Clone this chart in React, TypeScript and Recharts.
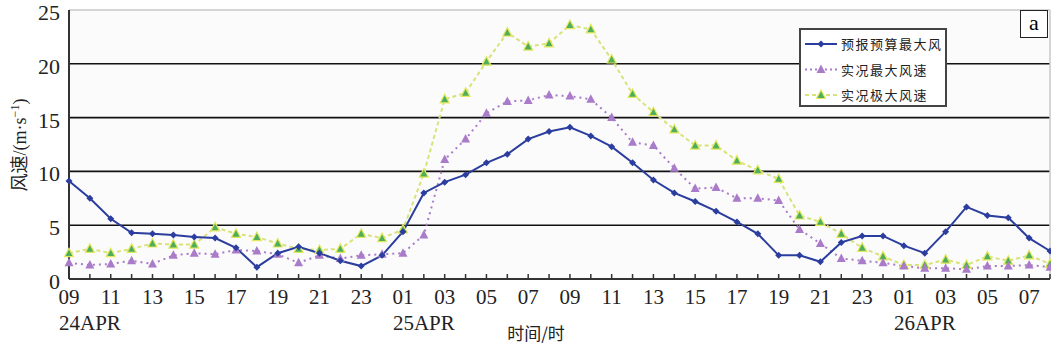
import { LineChart, Line, XAxis, YAxis, ReferenceLine } from "recharts";

// hours along the x axis, 09 on 24 Apr to 08 on 26 Apr
const hours = [
  "09", "10", "11", "12", "13", "14", "15", "16", "17", "18", "19", "20", "21", "22", "23", "00",
  "01", "02", "03", "04", "05", "06", "07", "08", "09", "10", "11", "12", "13", "14", "15", "16",
  "17", "18", "19", "20", "21", "22", "23", "00", "01", "02", "03", "04", "05", "06", "07", "08",
];

// date labels placed under the first hour of each day
const dateLabels: [number, string][] = [
  [0, "24APR"],
  [16, "25APR"],
  [40, "26APR"],
];

const forecast = [
  9.1, 7.5, 5.6, 4.3, 4.2, 4.1, 3.9, 3.8, 2.9, 1.1, 2.4, 3.0, 2.4, 1.7, 1.2, 2.2,
  4.4, 8.0, 9.0, 9.7, 10.8, 11.6, 13.0, 13.7, 14.1, 13.3, 12.3, 10.8, 9.2, 8.0, 7.2, 6.3,
  5.3, 4.2, 2.2, 2.2, 1.6, 3.4, 4.0, 4.0, 3.1, 2.4, 4.4, 6.7, 5.9, 5.7, 3.8, 2.6,
];

const obsMax = [
  1.5, 1.3, 1.4, 1.7, 1.4, 2.2, 2.4, 2.3, 2.7, 2.6, 2.3, 1.5, 2.2, 1.9, 2.2, 2.3,
  2.4, 4.1, 11.1, 13.0, 15.4, 16.5, 16.6, 17.1, 17.0, 16.7, 15.0, 12.7, 12.4, 10.3, 8.4, 8.5,
  7.5, 7.5, 7.3, 4.6, 3.3, 1.9, 1.7, 1.5, 1.2, 1.0, 1.0, 0.9, 1.2, 1.2, 1.3, 1.1,
];

const obsGust = [
  2.4, 2.8, 2.4, 2.8, 3.3, 3.2, 3.2, 4.8, 4.2, 3.9, 3.3, 2.8, 2.7, 2.8, 4.2, 3.8,
  4.6, 9.8, 16.7, 17.3, 20.2, 22.9, 21.6, 21.9, 23.6, 23.2, 20.4, 17.2, 15.5, 13.9, 12.4, 12.4,
  11.0, 10.1, 9.3, 5.9, 5.3, 4.2, 2.9, 2.1, 1.3, 1.3, 1.8, 1.3, 2.1, 1.7, 2.2, 1.4,
];

const yTicks = [0, 5, 10, 15, 20, 25];

const data = hours.map((h, i) => ({
  i,
  hour: h,
  forecast: forecast[i],
  obsMax: obsMax[i],
  obsGust: obsGust[i],
}));

const BLUE = "#2b3d9e";
const PURPLE = "#a97bc9";
const GREEN_LINE = "#d9e27a";
const GREEN_DOT = "#4fae5a";
const SERIF = "'Liberation Serif', 'Times New Roman', serif";
const CJK = "'Noto Sans CJK SC', sans-serif";

const Diamond = (props: any) => {
  const { cx, cy, index } = props;
  if (cx == null || cy == null) return <g key={index} />;
  const r = 3.5;
  return (
    <path
      key={index}
      d={`M${cx},${cy - r}L${cx + r},${cy}L${cx},${cy + r}L${cx - r},${cy}Z`}
      fill={BLUE}
    />
  );
};

const PurpleTri = (props: any) => {
  const { cx, cy, index } = props;
  if (cx == null || cy == null) return <g key={index} />;
  return (
    <path
      key={index}
      d={`M${cx},${cy - 5}L${cx + 4.5},${cy + 3.5}L${cx - 4.5},${cy + 3.5}Z`}
      fill={PURPLE}
    />
  );
};

const GreenTri = (props: any) => {
  const { cx, cy, index } = props;
  if (cx == null || cy == null) return <g key={index} />;
  return (
    <path
      key={index}
      d={`M${cx},${cy - 5}L${cx + 4.5},${cy + 3.5}L${cx - 4.5},${cy + 3.5}Z`}
      fill={GREEN_DOT}
      stroke="#e4e860"
      strokeWidth={1.2}
    />
  );
};

const HourTick = (props: any) => {
  const { x, y, payload } = props;
  const idx = payload.value as number;
  const date = dateLabels.find((d) => d[0] === idx);
  return (
    <g>
      <line x1={x} x2={x} y1={y} y2={y - 5} stroke="#333" strokeWidth={1.5} />
      {idx % 2 === 0 && (
        <text x={x} y={y + 25} textAnchor="middle" fontFamily={SERIF} fontSize={21} fill="#222">
          {hours[idx]}
        </text>
      )}
      {date && (
        <text x={x - 10} y={y + 51} textAnchor="start" fontFamily={SERIF} fontSize={21} fill="#222">
          {date[1]}
        </text>
      )}
    </g>
  );
};

const ValueTick = (props: any) => {
  const { x, y, payload } = props;
  return (
    <text x={x} y={y + 10} textAnchor="end" fontFamily={SERIF} fontSize={22} fill="#222">
      {payload.value}
    </text>
  );
};

const legendItems = [
  { label: "预报预算最大风", color: BLUE, dash: undefined, shape: "diamond" },
  { label: "实况最大风速", color: PURPLE, dash: "2 3", shape: "ptri" },
  { label: "实况极大风速", color: GREEN_LINE, dash: "4 3", shape: "gtri" },
];

const LegendBox = () => (
  <div
    style={{
      position: "absolute",
      left: 799,
      top: 28,
      width: 144,
      height: 75,
      border: "2px solid #444",
      background: "#fff",
    }}
  >
    <svg width={144} height={75} style={{ display: "block" }}>
      {legendItems.map((it, k) => {
        const cy = 14 + k * 25.5;
        return (
          <g key={it.label}>
            <line x1={4} x2={36} y1={cy} y2={cy} stroke={it.color} strokeWidth={2} strokeDasharray={it.dash} />
            {it.shape === "diamond" && <Diamond cx={20} cy={cy} index={k} />}
            {it.shape === "ptri" && <PurpleTri cx={20} cy={cy} index={k} />}
            {it.shape === "gtri" && <GreenTri cx={20} cy={cy} index={k} />}
            <text x={40} y={cy + 5} fontFamily={CJK} fontSize={13} letterSpacing={1.5} fill="#222">
              {it.label}
            </text>
          </g>
        );
      })}
    </svg>
  </div>
);

const YLabel = () => (
  <text
    transform="translate(26,145) rotate(-90)"
    textAnchor="middle"
    fontSize={18}
    fill="#222"
  >
    <tspan fontFamily={CJK}>风速</tspan>
    <tspan fontFamily={SERIF}>/(m·s</tspan>
    <tspan fontFamily={SERIF} fontSize={12} dy={-7}>−1</tspan>
    <tspan fontFamily={SERIF} dy={7}>)</tspan>
  </text>
);

export default function App() {
  return (
    <div style={{ position: "absolute", left: 0, top: 0, width: 1051, height: 351, background: "#fff" }}>
      <LineChart width={1051} height={351} data={data} margin={{ top: 10, right: 1, left: 0, bottom: 0 }}>
        <rect x={69} y={10} width={981} height={269} fill="#fbfbfb" />
        <XAxis
          dataKey="i"
          type="number"
          domain={[0, 47]}
          ticks={hours.map((_, i) => i)}
          interval={0}
          tickSize={0}
          tickMargin={0}
          tickLine={false}
          tick={<HourTick />}
          axisLine={{ stroke: "#333", strokeWidth: 2 }}
          height={72}
        />
        <YAxis
          domain={[0, 25]}
          ticks={yTicks}
          interval={0}
          width={69}
          tickSize={0}
          tickMargin={9}
          tickLine={false}
          axisLine={{ stroke: "#333", strokeWidth: 2 }}
          tick={<ValueTick />}
          label={<YLabel />}
        />
        {[5, 10, 15, 20].map((v) => (
          <ReferenceLine key={v} y={v} stroke="#111" strokeWidth={1.6} />
        ))}
        <ReferenceLine y={25} stroke="#c8c8c8" strokeWidth={1.5} />
        <ReferenceLine x={47} stroke="#c8c8c8" strokeWidth={1.5} />
        <Line
          dataKey="obsGust"
          stroke={GREEN_LINE}
          strokeWidth={2}
          strokeDasharray="4 3"
          dot={<GreenTri />}
          isAnimationActive={false}
        />
        <Line
          dataKey="obsMax"
          stroke={PURPLE}
          strokeWidth={2}
          strokeDasharray="2 4"
          dot={<PurpleTri />}
          isAnimationActive={false}
        />
        <Line
          dataKey="forecast"
          stroke={BLUE}
          strokeWidth={2}
          dot={<Diamond />}
          isAnimationActive={false}
        />
        <text x={536} y={340} textAnchor="middle" fontFamily={CJK} fontSize={17} fill="#222">
          时间/时
        </text>
      </LineChart>
      <LegendBox />
      <div
        style={{
          position: "absolute",
          left: 1020,
          top: 10,
          width: 26,
          height: 26,
          border: "1px solid #222",
          background: "#fff",
          fontFamily: SERIF,
          fontSize: 22,
          lineHeight: "24px",
          textAlign: "center",
        }}
      >
        a
      </div>
    </div>
  );
}
